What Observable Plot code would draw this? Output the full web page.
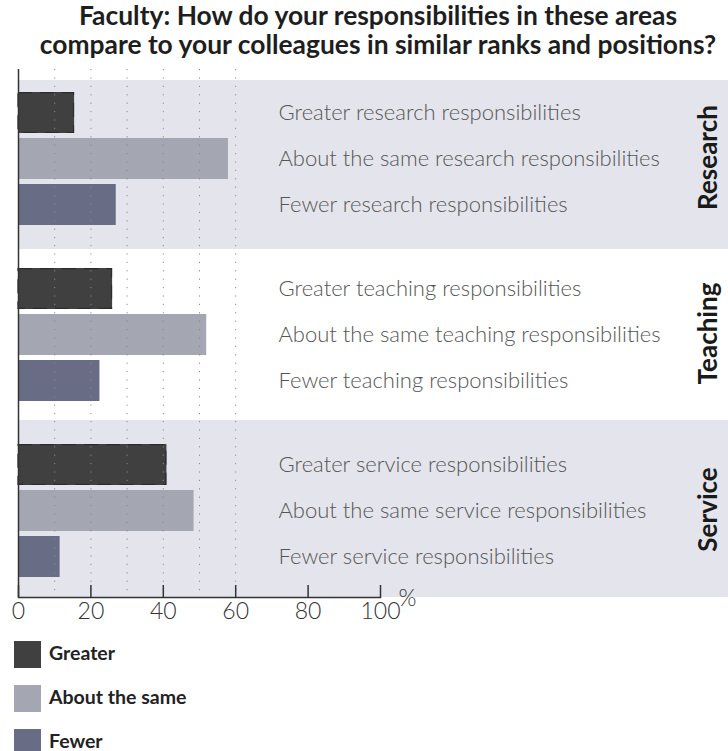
<!DOCTYPE html>
<html>
<head>
<meta charset="utf-8">
<script src="https://cdn.jsdelivr.net/npm/d3@7"></script>
<script src="https://cdn.jsdelivr.net/npm/@observablehq/plot@0.6"></script>
<style>
  html, body { margin: 0; padding: 0; background: #fff; }
  body { width: 728px; font-family: Lato, "Open Sans", sans-serif; overflow: hidden; }
  #title { box-sizing: border-box; height: 60px; padding: 1px 0 0 28px; text-align: center;
           font-weight: 700; font-size: 26.4px; line-height: 29px; color: #1e1e1e; white-space: nowrap; }
  #title div { height: 29px; }
  #chart svg { display: block; overflow: visible; }
  #legend { margin-top: 11px; }
  .item { display: flex; align-items: center; height: 27px; margin-bottom: 17px; }
  .sw { width: 27px; height: 27px; margin-left: 14px; margin-right: 8px; box-sizing: border-box; flex: none; }
  .lab { font-weight: 700; font-size: 19.5px; line-height: 16px; color: #222; position: relative; top: -2px; }
</style>
</head>
<body>
<div id="title"><div>Faculty: How do your responsibilities in these areas</div><div>compare to your colleagues in similar ranks and positions?</div></div>
<div id="chart"></div>
<div id="legend"></div>
<script>
const areas = ["Research", "Teaching", "Service"];
const responses = ["Greater", "About the same", "Fewer"];
const researchValues = [15.5, 58, 27];
const teachingValues = [26, 52, 22.5];
const serviceValues = [41, 48.5, 11.5];
const researchLabels = ["Greater research responsibilities", "About the same research responsibilities", "Fewer research responsibilities"];
const teachingLabels = ["Greater teaching responsibilities", "About the same teaching responsibilities", "Fewer teaching responsibilities"];
const serviceLabels = ["Greater service responsibilities", "About the same service responsibilities", "Fewer service responsibilities"];
const xTicks = [0, 20, 40, 60, 80, 100];
const gridValues = [10, 20, 30, 40, 50, 60];
const colors = ["#404040", "#a4a6b1", "#686c85"];
const bandColor = "#e4e5ec";

const valuesByArea = {Research: researchValues, Teaching: teachingValues, Service: serviceValues};
const labelsByArea = {Research: researchLabels, Teaching: teachingLabels, Service: serviceLabels};
const rows = areas.flatMap(area => responses.map((response, i) => ({
  area, response, value: valuesByArea[area][i], label: labelsByArea[area][i]
})));

const W = 728;
const xRange = [18, 380];

const chart = Plot.plot({
  width: W,
  height: 570,
  marginLeft: 18,
  marginRight: 0,
  marginTop: 9,
  marginBottom: 33,
  style: {fontFamily: "Lato, sans-serif", background: "transparent", overflow: "visible"},
  x: {domain: [0, 100], range: xRange, axis: null},
  y: {domain: responses, padding: 0.1, insetTop: 16.8, insetBottom: 14.3, axis: null},
  fy: {domain: areas, padding: 0, axis: null},
  color: {domain: responses, range: colors},
  marks: [
    Plot.rect(["Research"], {fy: d => d, fill: bandColor, insetTop: 11, insetBottom: -4}),
    Plot.rect(["Service"], {fy: d => d, fill: bandColor, insetTop: -1}),
    Plot.barX(rows, {fy: "area", y: "response", x: "value", fill: "response"}),
    Plot.barX(rows.filter(d => d.response === "Greater"), {fy: "area", y: "response", x: "value",
      fill: "none", stroke: "#2c2c2c", strokeWidth: 1.2, strokeDasharray: "14,8", insetTop: 0.6, insetBottom: 0.6, insetRight: 0.6}),
    Plot.ruleX(gridValues, {stroke: "#8a8a8a", strokeWidth: 1, strokeDasharray: "1.2,7.2"}),
    Plot.ruleX([0], {stroke: "#333", strokeWidth: 1.5}),
    Plot.text(rows, {fy: "area", y: "response", text: "label", frameAnchor: "left", dx: 260,
      textAnchor: "start", fontSize: 22, fontWeight: 300, fill: "#555"}),
    Plot.text(areas, {fy: d => d, text: d => d, frameAnchor: "right", textAnchor: "middle", rotate: -90, dx: -20,
      fontSize: 26, fontWeight: 700, fill: "#1a1a1a"}),
    Plot.frame({anchor: "bottom", facetAnchor: "bottom", insetRight: W - xRange[1], stroke: "#333", strokeWidth: 1.5}),
    Plot.axisX({ticks: xTicks, tickSize: -12, tickPadding: 17, fontSize: 23, fontWeight: 300,
      fill: "#333", stroke: "#333", strokeWidth: 1.5, label: null, tickFormat: d => d}),
    Plot.text(["Service"], {fy: d => d, x: () => 100, frameAnchor: "bottom", text: () => "%", dx: 27, dy: 8,
      fontSize: 23, fontWeight: 300, fill: "#333"})
  ]
});
document.getElementById("chart").appendChild(chart);

const legend = document.getElementById("legend");
responses.forEach((r, i) => {
  const item = document.createElement("div");
  item.className = "item";
  const sw = document.createElement("div");
  sw.className = "sw";
  sw.style.background = colors[i];
  const lab = document.createElement("span");
  lab.className = "lab";
  lab.textContent = r;
  item.appendChild(sw);
  item.appendChild(lab);
  legend.appendChild(item);
});
</script>
</body>
</html>
